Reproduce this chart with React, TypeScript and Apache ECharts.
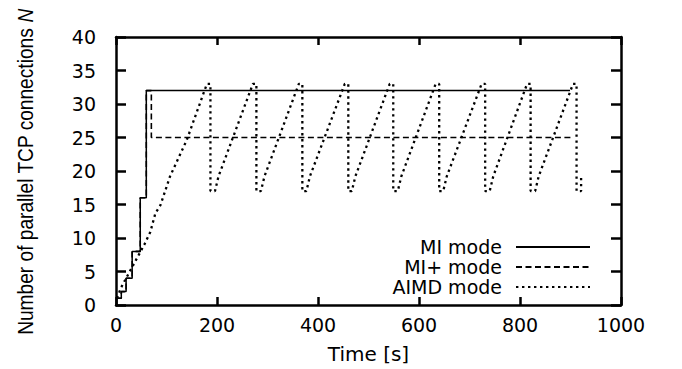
import React, { useEffect, useRef } from "react";
import * as echarts from "echarts";

// MI mode (solid): multiplicative increase staircase, then flat at 32
const miPoints: [number, number][] = [
  [0, 1], [10.5, 1], [10.5, 2], [20, 2], [20, 4], [32, 4], [32, 8],
  [48, 8], [48, 16], [60, 16], [60, 32], [899, 32],
];

// MI+ mode (dashed): same staircase, then back-off to 25
const miPlusPoints: [number, number][] = [
  [0, 1], [10.5, 1], [10.5, 2], [20, 2], [20, 4], [32, 4], [32, 8],
  [48, 8], [48, 16], [60, 16], [60, 32], [70, 32], [70, 25], [902, 25],
];

// AIMD mode (dotted): additive increase, multiplicative decrease sawtooth
const aimdPoints: [number, number][] = [
  [2, 1], [10, 2.6], [38, 6.5], [56, 9], [68, 10.9], [78, 13.7], [88, 14.9],
  [107, 19.2], [140, 24.6], [180, 33],
  [187, 33], [187, 17], [196, 17], [203, 19.2],
  [271, 33], [278, 33], [278, 17], [287, 17], [294, 19.2],
  [362, 33], [369, 33], [369, 17], [377, 17], [384, 19.2],
  [453, 33], [460, 33], [460, 17], [467, 17], [474, 19.2],
  [542, 33], [549, 33], [549, 17], [558, 17], [565, 19.2],
  [633, 33], [640, 33], [640, 17], [648, 17], [655, 19.2],
  [724, 33], [731, 33], [731, 17], [740, 17], [747, 19.2],
  [814, 33], [821, 33], [821, 17], [830, 17], [837, 19.2],
  [905, 33], [912, 33], [912, 17], [921, 17], [921, 19],
];

const seriesNames = ["MI mode", "MI+ mode", "AIMD mode"];
const xTicks = { min: 0, max: 1000, interval: 200 };
const yTicks = { min: 0, max: 40, interval: 5 };

const TICK_FONT = "DejaVu Sans";

export default function App() {
  const ref = useRef<HTMLDivElement>(null);

  useEffect(() => {
    if (!ref.current) return;
    const chart = echarts.init(ref.current, undefined, { renderer: "svg" });

    const axisLine = { show: true, onZero: false, lineStyle: { color: "#000", width: 2.5 } };
    const xTick = { show: true, inside: true, length: 8, lineStyle: { color: "#000", width: 2.5 } };
    const yTick = { show: true, inside: true, length: 10, lineStyle: { color: "#000", width: 2.5 } };
    const labelStyle = { color: "#000", fontSize: 19, fontFamily: TICK_FONT };

    const legendBase = {
      orient: "vertical",
      align: "right",
      right: 91,
      itemWidth: 74,
      itemHeight: 14,
      itemGap: 0,
      padding: 0,
      itemStyle: { opacity: 0 },
      textStyle: {
        color: "#000",
        fontSize: 19,
        lineHeight: 19,
        fontFamily: TICK_FONT,
        padding: [0, 9, 0, 0],
      },
    };

    const option: any = {
      animation: false,
      backgroundColor: "#fff",
      grid: { left: 116, right: 61, top: 37, bottom: 64 },
      xAxis: [
        {
          type: "value",
          ...xTicks,
          position: "bottom",
          axisLine,
          axisTick: xTick,
          axisLabel: { ...labelStyle, margin: 10, formatter: (v: number) => String(v) },
          splitLine: { show: false },
          name: "Time [s]",
          nameLocation: "middle",
          nameGap: 39,
          nameTextStyle: { color: "#000", fontSize: 20, fontFamily: TICK_FONT },
        },
        {
          type: "value",
          ...xTicks,
          position: "top",
          axisLine,
          axisTick: xTick,
          axisLabel: { show: false },
          splitLine: { show: false },
        },
      ],
      yAxis: [
        {
          type: "value",
          ...yTicks,
          position: "left",
          axisLine,
          axisTick: yTick,
          axisLabel: { ...labelStyle, margin: 20, formatter: (v: number) => String(v) },
          splitLine: { show: false },
        },
        {
          type: "value",
          ...yTicks,
          position: "right",
          axisLine,
          axisTick: yTick,
          axisLabel: { show: false },
          splitLine: { show: false },
        },
      ],
      legend: [
        { ...legendBase, top: 237.5, data: [seriesNames[0]] },
        { ...legendBase, top: 257.5, data: [seriesNames[1]] },
        { ...legendBase, top: 277.5, data: [seriesNames[2]] },
      ],
      graphic: [
        {
          type: "text",
          x: 25,
          y: 172,
          rotation: Math.PI / 2,
          scaleX: 0.87,
          style: {
            text: "{a|Number of parallel TCP connections }{b|N}",
            align: "center",
            verticalAlign: "middle",
            fill: "#000",
            rich: {
              a: { fontSize: 22, fontFamily: "Liberation Sans", fill: "#000" },
              b: { fontSize: 22, fontFamily: "Liberation Sans", fontStyle: "italic", fill: "#000" },
            },
          },
        },
      ],
      series: [
        {
          name: seriesNames[0],
          type: "line",
          data: miPoints,
          symbol: "none",
          lineStyle: { color: "#000", width: 1.5, type: "solid" },
          itemStyle: { color: "#000" },
          z: 3,
        },
        {
          name: seriesNames[1],
          type: "line",
          data: miPlusPoints,
          symbol: "none",
          lineStyle: { color: "#000", width: 1.6, type: [6, 3.5] },
          itemStyle: { color: "#000" },
          z: 2,
        },
        {
          name: seriesNames[2],
          type: "line",
          data: aimdPoints,
          symbol: "none",
          lineStyle: { color: "#000", width: 2.3, type: [2.4, 3.6] },
          itemStyle: { color: "#000" },
          z: 1,
        },
      ],
    };

    chart.setOption(option);
    return () => chart.dispose();
  }, []);

  return <div ref={ref} style={{ width: 682, height: 369, position: "absolute", left: 0, top: 0 }} />;
}
